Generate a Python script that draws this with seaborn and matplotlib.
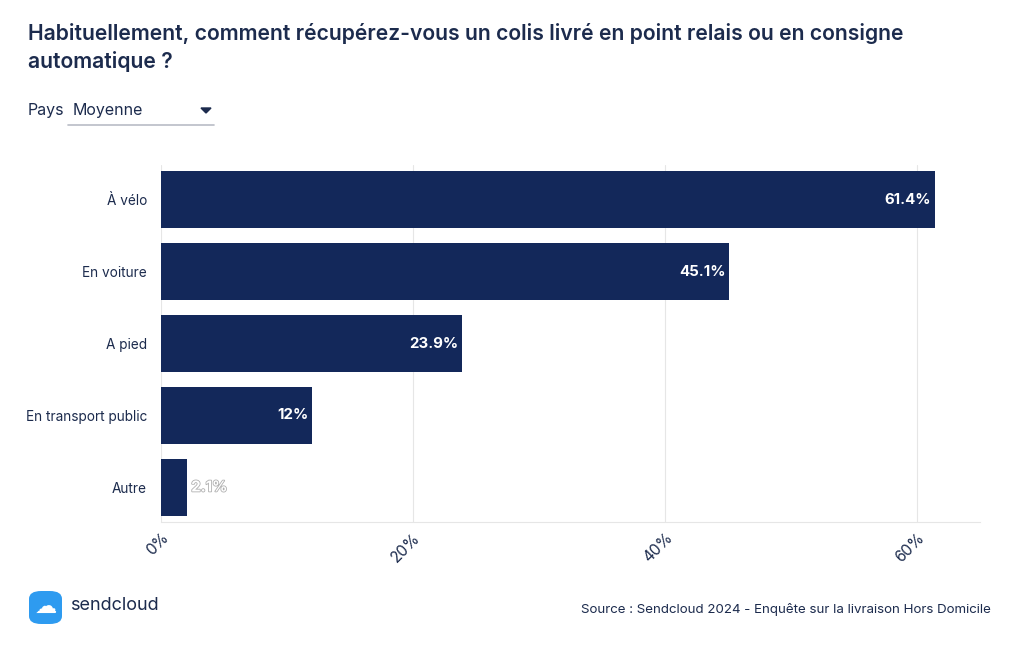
import matplotlib
matplotlib.use("Agg")
import matplotlib.pyplot as plt
import matplotlib.patheffects as pe
from matplotlib.patches import FancyBboxPatch
import seaborn as sns
import pandas as pd

categories = ["À vélo", "En voiture", "A pied", "En transport public", "Autre"]
values = [61.4, 45.1, 23.9, 12, 2.1]
value_labels = ["61.4%", "45.1%", "23.9%", "12%", "2.1%"]
x_ticks = [0, 20, 40, 60]
x_tick_labels = ["0%", "20%", "40%", "60%"]

NAVY = "#13285a"
TEXT = "#1c2b4d"

sns.set_style("white")
plt.rcParams["font.family"] = ["Inter", "DejaVu Sans"]

df = pd.DataFrame({"mode": categories, "pct": values})

fig = plt.figure(figsize=(10.2, 6.5), dpi=100)
ax = fig.add_axes([161 / 1020, 1 - 522 / 650, (980 - 161) / 1020, (522 - 165) / 650])

sns.barplot(data=df, x="pct", y="mode", color=NAVY, saturation=1, width=0.79,
            linewidth=0, ax=ax)

ax.set_xlim(0, 65)
ax.set_ylim(4.48, -0.48)
ax.set_xticks(x_ticks)
ax.set_xticklabels(x_tick_labels, rotation=45, ha="right", rotation_mode="anchor",
                   fontsize=11, color=TEXT)
ax.tick_params(axis="x", length=0, pad=6)
ax.tick_params(axis="y", length=0, pad=10, labelsize=9.8, labelcolor=TEXT)
ax.set_xlabel("")
ax.set_ylabel("")
ax.grid(axis="x", color="#e6e6e6", linewidth=0.8)
ax.set_axisbelow(True)
for s in ["top", "right", "left"]:
    ax.spines[s].set_visible(False)
ax.spines["bottom"].set_color("#e6e6e6")
ax.spines["bottom"].set_linewidth(0.8)

for i, (v, lab) in enumerate(zip(values, value_labels)):
    if v > 8:
        ax.text(v - 0.3, i, lab, ha="right", va="center", color="white",
                fontsize=10.8, fontweight="bold")
    else:
        ax.text(v + 0.3, i, lab, ha="left", va="center", color="white",
                fontsize=10.8, fontweight="bold",
                path_effects=[pe.withStroke(linewidth=1.2, foreground="#b0b0b0")])

# title
fig.text(28 / 1020, 1 - 34 / 650, "Habituellement, comment récupérez-vous un colis livré en point relais ou en consigne",
         fontsize=15.2, fontweight="semibold", color=TEXT, va="center")
fig.text(28 / 1020, 1 - 61 / 650, "automatique ?",
         fontsize=15.2, fontweight="semibold", color=TEXT, va="center")

# dropdown
fig.text(28 / 1020, 1 - 110 / 650, "Pays", fontsize=11.5, color=TEXT, va="center")
fig.text(73 / 1020, 1 - 111 / 650, "Moyenne", fontsize=11.5, color=TEXT, va="center")
fig.add_artist(plt.Line2D([68 / 1020, 214 / 1020], [1 - 125 / 650, 1 - 125 / 650],
                          color="#b9bcc6", linewidth=1.2))
fig.add_artist(plt.Polygon([[201 / 1020, 1 - 108 / 650], [211 / 1020, 1 - 108 / 650],
                            [206 / 1020, 1 - 113 / 650]], closed=True, color=TEXT))

# logo
fig.add_artist(FancyBboxPatch((29 / 1020, 1 - 624 / 650), 33 / 1020, 33 / 650,
                              boxstyle="round,pad=0,rounding_size=0.012",
                              facecolor="#2e9bf0", edgecolor="none",
                              transform=fig.transFigure))
fig.text(45.5 / 1020, 1 - 607 / 650, "☁", fontsize=16, color="white",
         ha="center", va="center", family=["DejaVu Sans"])
fig.text(70 / 1020, 1 - 606 / 650, "sendcloud", fontsize=13, color=TEXT, va="center")

fig.text(991 / 1020, 1 - 609 / 650, "Source : Sendcloud 2024 - Enquête sur la livraison Hors Domicile",
         fontsize=9.6, color=TEXT, ha="right", va="center")

fig.savefig("out.png", dpi=100, facecolor="white")
